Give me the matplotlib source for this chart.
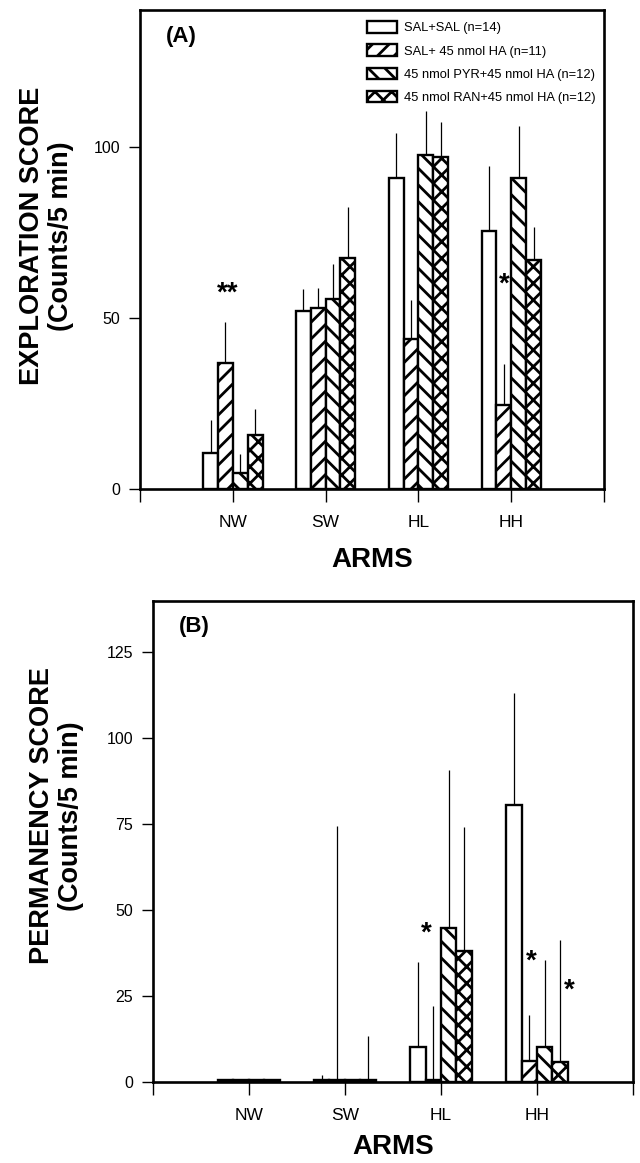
import matplotlib
matplotlib.use("Agg")
import matplotlib.pyplot as plt
import numpy as np

plt.rcParams['font.family'] = ['Liberation Sans', 'DejaVu Sans']
plt.rcParams['hatch.linewidth'] = 2.0

categories = ['NW', 'SW', 'HL', 'HH']
groups = ['SAL+SAL (n=14)', 'SAL+ 45 nmol HA (n=11)',
          '45 nmol PYR+45 nmol HA (n=12)', '45 nmol RAN+45 nmol HA (n=12)']
hatches = ['', '//', '\\\\', 'xx']

# Panel A: exploration score
expl_sal = [10.6, 51.9, 91.0, 75.4]
expl_ha = [36.9, 52.9, 43.8, 24.5]
expl_pyr = [4.7, 55.5, 97.5, 91.0]
expl_ran = [15.7, 67.5, 97.1, 67.0]
expl_sal_err = [9.7, 6.5, 13.1, 19.0]
expl_ha_err = [11.8, 5.8, 11.4, 12.0]
expl_pyr_err = [5.4, 10.3, 12.9, 15.0]
expl_ran_err = [7.6, 14.9, 10.2, 9.5]
expl_stars = [(0.94, 57.0, '**'), (3.93, 59.8, '*')]

# Panel B: permanency score
perm_sal = [0.5, 0.5, 10.2, 80.4]
perm_ha = [0.5, 0.5, 0.5, 6.1]
perm_pyr = [0.5, 0.5, 44.6, 10.2]
perm_ran = [0.5, 0.5, 38.1, 5.8]
perm_sal_err = [0.0, 1.5, 24.7, 32.7]
perm_ha_err = [0.0, 74.0, 21.5, 13.3]
perm_pyr_err = [0.0, 0.0, 46.2, 25.2]
perm_ran_err = [0.0, 12.8, 36.0, 35.4]
perm_stars = [(2.85, 43.0, '*'), (3.94, 35.0, '*'), (4.34, 26.6, '*')]

fig = plt.figure(figsize=(6.4, 11.63), dpi=100)
axA = fig.add_axes([0.2188, 0.5795, 0.725, 0.4119])
axB = fig.add_axes([0.2386, 0.0699, 0.7505, 0.4136])

width = 0.16
x = np.arange(1, len(categories) + 1)


def draw(ax, means, errs, stars, yticks, labelpad):
    handles = []
    for i, (m, e) in enumerate(zip(means, errs)):
        pos = x + (i - 1.5) * width
        ax.errorbar(pos, m, yerr=[np.zeros(len(e)), e], fmt='none',
                    ecolor='black', elinewidth=0.9, capsize=0, zorder=1)
        b = ax.bar(pos, m, width, color='white', edgecolor='black',
                   linewidth=1.7, hatch=hatches[i], label=groups[i], zorder=2)
        handles.append(b)
    for sx, sy, s in stars:
        ax.text(sx, sy, s, ha='center', va='center', fontsize=20,
                fontweight='bold')
    ax.set_xlim(0, 5)
    ax.set_ylim(0, 140)
    ax.set_xticks(np.arange(0, 6))
    ax.set_xticklabels([''] + categories + [''], fontsize=12.5)
    ax.set_yticks(yticks)
    ax.tick_params(axis='y', direction='out', length=8, width=1,
                   labelsize=11.5, pad=6)
    ax.tick_params(axis='x', direction='out', length=9, width=1, pad=10)
    for sp in ax.spines.values():
        sp.set_linewidth(1.9)
    ax.set_xlabel('ARMS', fontsize=20, fontweight='bold', labelpad=labelpad)
    return handles


hA = draw(axA, [expl_sal, expl_ha, expl_pyr, expl_ran],
          [expl_sal_err, expl_ha_err, expl_pyr_err, expl_ran_err],
          expl_stars, [0, 50, 100], 12)
draw(axB, [perm_sal, perm_ha, perm_pyr, perm_ran],
     [perm_sal_err, perm_ha_err, perm_pyr_err, perm_ran_err],
     perm_stars, [0, 25, 50, 75, 100, 125], 8)

axA.legend(handles=hA, loc='upper left', bbox_to_anchor=(0.49, 0.977),
           frameon=False, fontsize=9.3, handlelength=2.3, handleheight=1.0,
           labelspacing=0.78, handletextpad=0.55, borderpad=0,
           borderaxespad=0)

axA.text(0.09, 0.944, '(A)', transform=axA.transAxes, ha='center',
         va='center', fontsize=16, fontweight='bold')
axB.text(0.086, 0.946, '(B)', transform=axB.transAxes, ha='center',
         va='center', fontsize=16, fontweight='bold')

fig.text(47 / 640, 1 - 236 / 1163, 'EXPLORATION SCORE\n(Counts/5 min)',
         rotation=90, ha='center', va='center', fontsize=19.5,
         fontweight='bold', linespacing=1.15)
fig.text(57 / 640, 1 - 816 / 1163, 'PERMANENCY SCORE\n(Counts/5 min)',
         rotation=90, ha='center', va='center', fontsize=19.5,
         fontweight='bold', linespacing=1.15)

fig.savefig('out.png', dpi=100)
